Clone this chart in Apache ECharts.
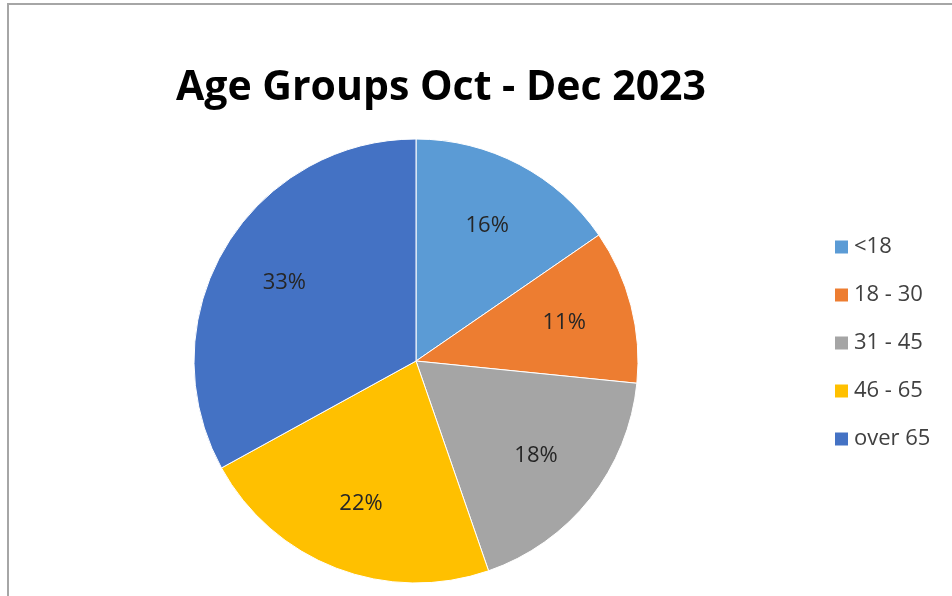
<!DOCTYPE html>
<html>
<head>
<meta charset="utf-8">
<script src="https://cdn.jsdelivr.net/npm/echarts@6/dist/echarts.min.js"></script>
<style>
  body { margin: 0; background: #fff; overflow: hidden; }
  #wrap { position: relative; width: 952px; height: 596px; overflow: hidden; }
  .frame {
    position: absolute; left: 7px; top: 3px; right: -10px; bottom: -10px;
    border: 2px solid #a6a6a6;
  }
  #chart { position: absolute; left: 0; top: 0; width: 952px; height: 596px; }
</style>
</head>
<body>
<div id="wrap">
  <div class="frame"></div>
  <div id="chart"></div>
</div>
<script>
const categories = ['<18', '18 - 30', '31 - 45', '46 - 65', 'over 65']
const shares = [15.4, 11.2, 18.1, 22.3, 33.0]
const colors = ['#5B9BD5', '#ED7D31', '#A5A5A5', '#FFC000', '#4472C4']

const chart = echarts.init(document.getElementById('chart'))

const pieData = categories.map((name, i) => ({ name, value: shares[i] }))

const option = {
  color: colors,
  animation: false,
  title: {
    text: 'Age Groups Oct - Dec 2023',
    left: 441,
    top: 68,
    padding: 0,
    textAlign: 'center',
    textStyle: {
      fontFamily: 'Open Sans',
      fontWeight: 'bold',
      fontSize: 41,
      color: '#000'
    }
  },
  legend: {
    orient: 'vertical',
    left: 833,
    top: 236,
    padding: 0,
    icon: 'rect',
    itemWidth: 15,
    itemHeight: 15,
    itemGap: 26,
    textStyle: {
      fontFamily: 'Open Sans',
      fontSize: 22,
      lineHeight: 20,
      color: '#404040'
    },
    data: categories
  },
  series: [
    {
      type: 'pie',
      center: [416, 361],
      radius: [0, 222],
      startAngle: 90,
      clockwise: true,
      silent: true,
      itemStyle: { borderColor: '#fff', borderWidth: 1 },
      label: { show: false },
      labelLine: { show: false },
      data: pieData
    },
    {
      // transparent ring only to place the labels a bit further out, like Excel
      type: 'pie',
      center: [416, 361],
      radius: [78, 222],
      startAngle: 90,
      clockwise: true,
      silent: true,
      percentPrecision: 0,
      itemStyle: { color: 'rgba(0,0,0,0)' },
      label: {
        show: true,
        position: 'inside',
        formatter: '{d}%',
        fontFamily: 'Open Sans',
        fontSize: 22,
        color: '#262626'
      },
      labelLine: { show: false },
      data: pieData
    }
  ]
}

chart.setOption(option)
</script>
</body>
</html>
